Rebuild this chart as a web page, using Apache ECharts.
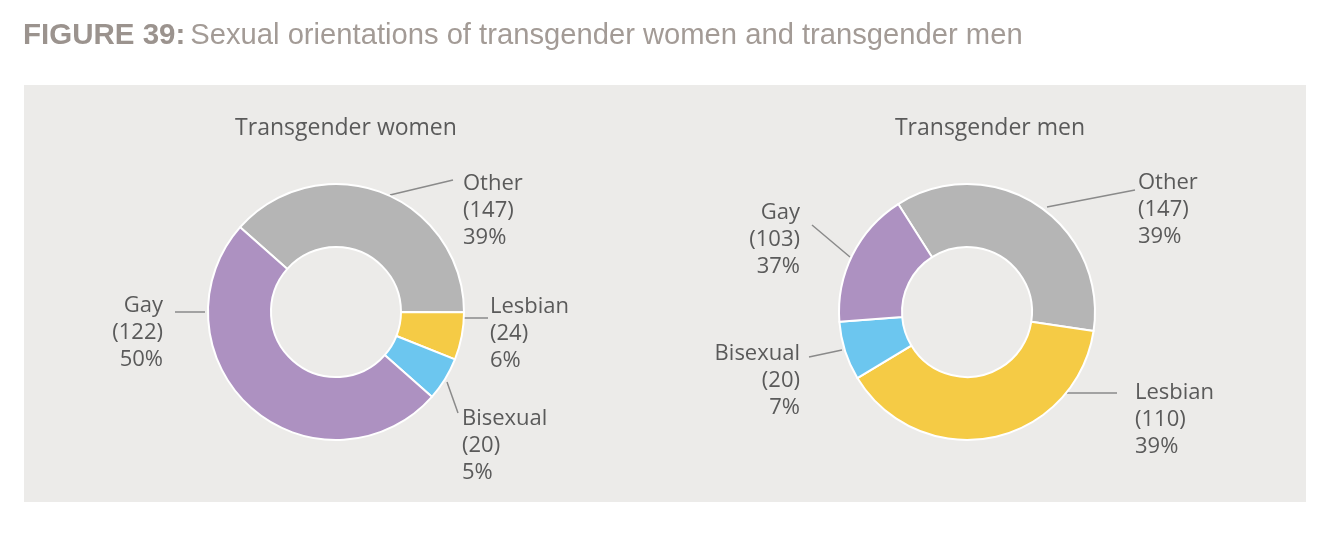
<!DOCTYPE html>
<html>
<head>
<meta charset="utf-8">
<title>Figure 39</title>
<script src="https://cdn.jsdelivr.net/npm/echarts@6/dist/echarts.min.js"></script>
<style>
  html, body { margin: 0; padding: 0; background: #fff; }
  #chart { width: 1332px; height: 546px; }
</style>
</head>
<body>
<div id="chart"></div>
<script>
// 类别（顺时针顺序）
const categories = ["Other", "Lesbian", "Bisexual", "Gay"];

// 扇区占比（按图上扇区角度读出）
const womenShare = [38.5, 6, 5.5, 50];
const menShare = [36.4, 39, 7.4, 17.2];

// 标签上印的人数和百分比
const womenCount = [147, 24, 20, 122];
const womenPct = ["39%", "6%", "5%", "50%"];
const menCount = [147, 110, 20, 103];
const menPct = ["39%", "39%", "7%", "37%"];

const colors = ["#b5b5b5", "#f5cb45", "#6cc6ef", "#ad91c1"];
const font = "'Open Sans', Lato, sans-serif";

// 饼图中心（px）
const centers = [[336, 312], [967, 312]];

// 标签位置，相对饼图中心：文字 x,y（首行顶部）, 对齐, 引线起点, 引线终点
const spots = [
  [
    { t: [127, -141.5], a: "left", l: [[54, -117], [117, -132]] },
    { t: [154, -18.5], a: "left", l: [[127, 6], [152, 6]] },
    { t: [126, 93.5], a: "left", l: [[111, 70], [122, 101]] },
    { t: [-173, -19.5], a: "right", l: [[-131, 0], [-161, 0]] }
  ],
  [
    { t: [171, -142.5], a: "left", l: [[80, -105], [168, -122]] },
    { t: [168, 67.5], a: "left", l: [[100, 81], [150, 81]] },
    { t: [-167, 28.5], a: "right", l: [[-125, 38], [-158, 45]] },
    { t: [-167, -112.5], a: "right", l: [[-117, -55], [-155, -87]] }
  ]
];

function buildData(share, count, pct) {
  return categories.map((name, i) => ({
    name: name,
    value: share[i],
    count: count[i],
    pct: pct[i],
    itemStyle: { color: colors[i] }
  }));
}

function pieSeries(idx, share, count, pct, startAngle) {
  return {
    type: "pie",
    center: centers[idx],
    radius: [65, 128],
    startAngle: startAngle,
    clockwise: true,
    avoidLabelOverlap: false,
    silent: true,
    itemStyle: { borderColor: "#fff", borderWidth: 2 },
    label: {
      show: true,
      position: "outside",
      fontFamily: font,
      fontSize: 22,
      lineHeight: 27,
      color: "#5a5a5a",
      formatter: function(p) {
        return p.data.name + "\n(" + p.data.count + ")\n" + p.data.pct;
      }
    },
    labelLine: {
      show: true,
      lineStyle: { color: "#8a8a8a", width: 1.5 }
    },
    labelLayout: function(params) {
      const c = centers[idx];
      const s = spots[idx][params.dataIndex];
      const p0 = [c[0] + s.l[0][0], c[1] + s.l[0][1]];
      const p2 = [c[0] + s.l[1][0], c[1] + s.l[1][1]];
      return {
        x: c[0] + s.t[0],
        y: c[1] + s.t[1],
        align: s.a,
        verticalAlign: "top",
        labelLinePoints: [p0, [(p0[0] + p2[0]) / 2, (p0[1] + p2[1]) / 2], p2]
      };
    },
    data: buildData(share, count, pct)
  };
}

const myChart = echarts.init(document.getElementById("chart"));

const option = {
  backgroundColor: "#fff",
  animation: false,
  title: [
    {
      text: "{b|FIGURE 39:} {n|Sexual orientations of transgender women and transgender men}",
      left: 18,
      top: 16,
      textStyle: {
        rich: {
          b: { fontFamily: "'Liberation Sans', Arial", fontSize: 29.5, fontWeight: "bold", color: "#9b938e" },
          n: { fontFamily: "'Liberation Sans', Arial", fontSize: 29.2, fontWeight: "normal", color: "#a39b96" }
        }
      }
    },
    {
      text: "Transgender women",
      left: 341,
      top: 112,
      textAlign: "center",
      textStyle: { fontFamily: font, fontSize: 23, fontWeight: "normal", color: "#5a5a5a" }
    },
    {
      text: "Transgender men",
      left: 985,
      top: 112,
      textAlign: "center",
      textStyle: { fontFamily: font, fontSize: 23, fontWeight: "normal", color: "#5a5a5a" }
    }
  ],
  graphic: [
    {
      type: "rect",
      z: -10,
      silent: true,
      shape: { x: 24, y: 85, width: 1282, height: 417 },
      style: { fill: "#ecebe9" }
    }
  ],
  series: [
    pieSeries(0, womenShare, womenCount, womenPct, 138.5),
    pieSeries(1, menShare, menCount, menPct, 122.5)
  ]
};

myChart.setOption(option);
</script>
</body>
</html>
